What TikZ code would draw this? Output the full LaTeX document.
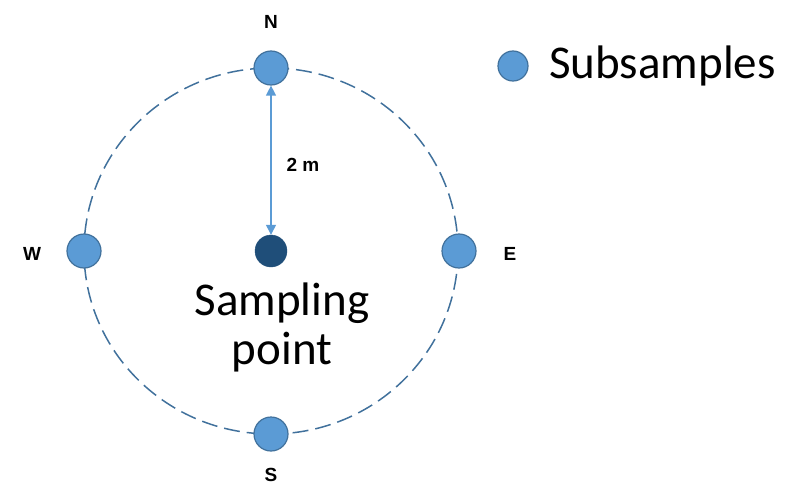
\documentclass[tikz,border=0pt]{standalone}
\usepackage{fontspec}
\setmainfont{Carlito}
\newfontfamily\labelfont{Liberation Sans}
\usetikzlibrary{arrows.meta}
\usepackage{xcolor}
\definecolor{subblue}{HTML}{5B9BD5}
\definecolor{subedge}{HTML}{41719C}
\definecolor{pointblue}{HTML}{1F4E79}

\begin{document}
\begin{tikzpicture}[
    x=1pt, y=-1pt,
    sub/.style={circle, draw=subedge, fill=subblue, line width=1.2pt, minimum size=34pt, inner sep=0pt},
    dir/.style={font=\labelfont\bfseries\fontsize{19}{19}\selectfont, inner sep=0pt}
]
\useasboundingbox (0,0) rectangle (789,487);

\draw[subedge, line width=1.5pt, dash pattern=on 16pt off 7pt] (271,251) ellipse [x radius=187, y radius=183];

\node[sub] (n) at (271,68) {};
\node[sub] (s) at (271,434) {};
\node[sub] (w) at (84,251) {};
\node[sub] (e) at (459,251) {};
\node[circle, draw=pointblue, fill=pointblue, minimum size=32pt, inner sep=0pt] (c) at (271,251) {};

\draw[subblue, line width=1.3pt, {Triangle[length=10pt,width=10pt]}-{Triangle[length=10pt,width=10pt]}] (c) -- (n);

\node[dir] (ln) at (271,22) {N};
\node[dir] (ls) at (271,475) {S};
\node[dir] (lw) at (32,254) {W};
\node[dir] (le) at (510,254) {E};
\node[dir] (d) at (303,165) {2 m};

\node[align=center, font=\fontsize{47}{49}\selectfont, inner sep=0pt] (lbl) at (282,327) {Sampling\\point};

\node[circle, draw=subedge, fill=subblue, line width=1.2pt, minimum size=30pt, inner sep=0pt] (key) at (513,66) {};
\node[anchor=west, font=\fontsize{47}{49}\selectfont, inner sep=0pt] (keytext) at (549,66) {Subsamples};

\end{tikzpicture}
\end{document}
